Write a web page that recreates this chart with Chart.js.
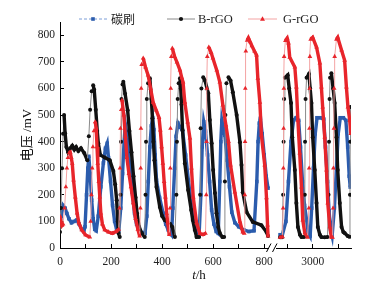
<!DOCTYPE html>
<html>
<head>
<meta charset="utf-8">
<script src="https://cdn.jsdelivr.net/npm/chart.js@4.4.1/dist/chart.umd.min.js"></script>
<style>
  html, body { margin: 0; padding: 0; background: #fff; }
  #wrap { width: 373px; height: 288px; }
</style>
</head>
<body>
<div id="wrap"><canvas id="chart"></canvas></div>
<script>
// 碳刷 (carbon brush) - time in h, voltage in mV
const brushT = [
  0, 5, 12, 20, 27, 35, 45, 55, 65, 75, 85, 93,
  98, 104, 109, 113, 118, 124, 130, 136, 142,
  150, 160, 170, 178, 185, 190, 198, 206, 214, 222, 230,
  238, 245, 251, 256, 262, 268, 275, 283, 292, 300, 310, 322, 333,
  340, 346, 352, 358, 363, 368, 373, 378, 390, 404, 414, 424, 437,
  442, 449, 455, 462, 470, 480, 492, 503, 515, 525, 535, 545,
  552, 557, 563, 570, 578, 586, 594, 603, 612, 620,
  626, 630, 634, 640, 646, 655, 664, 673, 685, 700, 720, 740, 760,
  771, 776, 781, 785, 792, 800, 808, 815,
  840,
  2872, 2880, 2895, 2905, 2915, 2925, 2935, 2945, 2952, 2960, 2968, 2976, 2982, 2990,
  2996, 3003, 3010, 3017, 3030, 3043, 3050, 3058, 3064, 3070, 3076,
  3085, 3093, 3100, 3108, 3120, 3130, 3137, 3143, 3147
];
const brushV = [
  90, 120, 160, 150, 130, 110, 95, 100, 105, 90, 70, 62,
  80, 200, 300, 345, 280, 180, 110, 70, 65,
  120, 230, 320, 375, 394, 340, 250, 160, 100, 68, 60,
  150, 280, 400, 465, 430, 360, 300, 210, 130, 90, 65, 58, 55,
  120, 250, 380, 460, 490, 445, 350, 255, 190, 131, 90, 68, 50,
  150, 300, 420, 470, 455, 443, 350, 255, 160, 100, 62, 52,
  200, 380, 475, 440, 350, 250, 143, 90, 62, 55,
  250, 400, 480, 450, 424, 330, 230, 135, 95, 80, 68, 62, 65,
  250, 400, 470, 488, 430, 350, 270, 225,
  null,
  50, 45, 100, 250, 400, 480, 490, 480, 380, 250, 160, 105, 60, 45,
  150, 300, 430, 490, 490, 485, 380, 250, 140, 70, 45,
  150, 300, 430, 490, 490, 480, 380, 270, 229
];

// B-rGO
const brgoT = [
  0, 4, 8, 12, 16, 20, 25, 32, 40, 48, 56, 63, 72, 82, 95, 107,
  113, 118, 124, 130, 134, 140, 146, 150, 158, 175, 195, 209, 216, 222, 226, 229, 234,
  237, 239, 241, 245, 248, 255, 265, 272, 280, 288, 296, 302, 310, 320, 332,
  335, 337, 340, 345, 352, 358, 362, 366, 370, 378, 391, 400, 410, 420, 432, 440, 450,
  456, 458, 461, 465, 470, 473, 476, 480, 489, 502, 514, 520, 528, 535,
  545, 549, 551, 554, 561, 568, 581, 587, 594, 600, 607, 613, 620, 626, 636,
  643, 646, 648, 652, 660, 668, 677, 692, 705, 711, 716, 731, 755, 789, 809, 815,
  840,
  2872, 2880, 2884, 2886, 2888, 2891, 2902, 2908, 2915, 2920, 2930, 2936, 2942, 2950, 2956, 2966,
  2969, 2970, 2972, 2976, 2985, 2990, 2995, 3000, 3008, 3015, 3020, 3028, 3034, 3047, 3058,
  3062, 3064, 3066, 3068, 3073, 3080, 3086, 3093, 3098, 3106, 3113, 3120, 3125, 3137, 3144,
  3146, 3147, 3148
];
const brgoV = [
  60, 150, 300, 430, 500, 432, 380, 360, 375, 385, 370, 380, 365, 375, 357, 330,
  420, 520, 590, 612, 595, 520, 440, 394, 350, 340, 330, 290, 240, 180, 100, 56, 41,
  200, 400, 560, 615, 625, 580, 518, 440, 360, 270, 190, 130, 80, 56, 41,
  200, 400, 560, 620, 638, 560, 488, 400, 330, 229, 154, 120, 105, 100, 90, 79, 41,
  200, 400, 560, 620, 638, 600, 540, 443, 318, 218, 143, 105, 68, 41,
  41, 200, 450, 600, 642, 630, 582, 481, 394, 293, 207, 131, 79, 56, 41,
  41, 250, 500, 620, 642, 630, 586, 500, 398, 312, 210, 135, 98, 86, 60, 45,
  null,
  40, 40, 200, 400, 560, 640, 650, 600, 545, 417, 293, 169, 79, 50, 41, 41,
  200, 400, 560, 640, 654, 600, 545, 417, 293, 169, 79, 50, 41, 40, 41,
  200, 400, 560, 640, 657, 600, 545, 417, 293, 169, 79, 60, 56, 45, 42,
  200, 400, 530
];

// G-rGO
const grgoT = [
  0, 4, 8, 12, 18, 23, 27, 31, 36, 40, 44, 48, 53, 60, 67, 74, 85, 100, 117,
  120, 123, 126, 129, 133, 138, 142, 145, 148, 152, 156, 160, 166, 175, 190, 205, 220, 230,
  233, 235, 237, 240, 243, 250, 256, 262, 270, 278, 287, 296, 305, 312,
  315, 316, 317, 318, 320, 326, 335, 345, 355, 365, 377, 388, 393, 398, 403, 408, 413, 418, 422, 428,
  431, 432, 433, 434, 436, 440, 449, 458, 470, 477, 482, 489, 500, 509, 515, 522, 535, 548, 560, 570,
  573, 574, 575, 577, 583, 592, 599, 614, 626, 638, 650, 660, 668, 685, 705, 716, 722,
  724, 725, 726, 728, 733, 738, 745, 752, 762, 770, 775, 783, 789, 802, 809, 813, 815,
  840,
  2872, 2882, 2884, 2885, 2886, 2887, 2888, 2893, 2900, 2905, 2910, 2930, 2936, 2942, 2949, 2956, 2961, 2969, 2980,
  2985, 2986, 2987, 2988, 2989, 2992, 3000, 3015, 3028, 3034, 3039, 3047, 3054, 3059, 3067, 3073, 3078,
  3080, 3081, 3083, 3084, 3086, 3093, 3098, 3113, 3125, 3132, 3138, 3145, 3149
];
const grgoV = [
  120, 100, 85, 90, 150, 230, 300, 340, 358, 360, 340, 318, 255, 191, 131, 94, 68, 49, 41,
  100, 200, 300, 380, 440, 474, 450, 380, 318, 250, 191, 131, 90, 68, 60, 55, 62, 70,
  150, 300, 450, 520, 556, 500, 420, 340, 280, 230, 170, 110, 70, 45,
  150, 300, 450, 600, 690, 714, 680, 650, 600, 548, 518, 490, 443, 380, 318, 250, 191, 130, 94, 50,
  150, 300, 450, 600, 720, 751, 720, 699, 669, 640, 624, 548, 473, 413, 300, 191, 94, 55, 50, 55,
  200, 400, 600, 720, 755, 735, 714, 669, 624, 537, 462, 400, 312, 210, 98, 60, 55,
  200, 400, 600, 740, 781, 790, 775, 760, 740, 725, 638, 548, 424, 312, 188, 86, 45,
  null,
  40, 42, 150, 300, 450, 600, 720, 780, 789, 770, 717, 680, 605, 480, 357, 229, 105, 56, 40,
  150, 300, 450, 600, 720, 785, 792, 755, 695, 605, 530, 417, 293, 169, 79, 41, 40,
  150, 300, 450, 600, 720, 785, 792, 744, 706, 605, 530, 480, 430
];

const xTicks = [0, 100, 200, 300, 400, 500, 600, 700, 800, 2900, 3000, 3100];
const xLabels = [0, 200, 400, 600, 800, 3000];
const yLabelStep = 100;

// broken x axis: 0..830 then jump to 2840..3150
const BREAK_AT = 830, BREAK_SHIFT = 2010, SPAN = 1140;
class BrokenScale extends Chart.LinearScale {
  getPixelForValue(v) {
    if (v === null || v === undefined) return NaN;
    const u = v > BREAK_AT ? v - BREAK_SHIFT : v;
    return this.getPixelForDecimal(u / SPAN);
  }
  getValueForPixel(p) {
    const u = this.getDecimalForPixel(p) * SPAN;
    return u > BREAK_AT ? u + BREAK_SHIFT : u;
  }
}
BrokenScale.id = 'broken';
BrokenScale.defaults = Chart.LinearScale.defaults;
Chart.register(BrokenScale);

const BLUE = '#2b5cad', BLUE_L = '#7d9ed8';
const BLACK = '#111111', BLACK_L = '#8a8a8a';
const RED = '#e8252b', RED_L = '#f4a3a3';

const zip = (t, v) => t.map((x, i) => ({x: x, y: v[i]}));
const steepRise = c => c.p0.y - c.p1.y > 2 * Math.abs(c.p1.x - c.p0.x);
const seg = (light, solid, thin) => ({
  borderColor: c => (thin && steepRise(c)) ? light : solid,
  borderWidth: c => (thin && steepRise(c)) ? 1 : 3.4
});

const serif = "'Liberation Serif', 'Times New Roman', serif";
const cjk = "'Liberation Serif', 'Noto Sans CJK SC', serif";

const legendItems = [
  {text: '碳刷', color: BLUE, line: BLUE_L, dash: [3, 2], shape: 'rect', x0: 79, x1: 107, tx: 111, font: "12px 'Noto Sans CJK SC'"},
  {text: 'B-rGO', color: BLACK, line: BLACK_L, dash: [], shape: 'circle', x0: 167, x1: 195, tx: 198, font: '12.5px ' + serif},
  {text: 'G-rGO', color: RED, line: RED_L, dash: [], shape: 'triangle', x0: 248, x1: 277, tx: 283, font: '12.5px ' + serif}
];

function marker(ctx, shape, x, y) {
  ctx.beginPath();
  if (shape === 'rect') ctx.rect(x - 1.8, y - 1.8, 3.6, 3.6);
  else if (shape === 'circle') ctx.arc(x, y, 2.1, 0, Math.PI * 2);
  else { ctx.moveTo(x, y - 2.7); ctx.lineTo(x + 2.5, y + 1.7); ctx.lineTo(x - 2.5, y + 1.7); ctx.closePath(); }
  ctx.fill();
}

const decorations = {
  id: 'decorations',
  afterDraw(chart) {
    const ctx = chart.ctx;
    const area = chart.chartArea;
    ctx.save();
    // legend row
    const ly = 19;
    legendItems.forEach(it => {
      ctx.strokeStyle = it.line;
      ctx.lineWidth = 1;
      ctx.setLineDash(it.dash);
      ctx.beginPath();
      ctx.moveTo(it.x0, ly); ctx.lineTo(it.x1, ly);
      ctx.stroke();
      ctx.setLineDash([]);
      ctx.fillStyle = it.color;
      marker(ctx, it.shape, (it.x0 + it.x1) / 2, ly);
      ctx.fillStyle = '#222';
      ctx.font = it.font;
      ctx.textBaseline = 'middle';
      ctx.textAlign = 'left';
      ctx.fillText(it.text, it.tx, ly + 0.5);
    });
    // axis break marks
    const by = area.bottom;
    ctx.fillStyle = '#fff';
    ctx.fillRect(269, by - 2, 7, 4);
    ctx.strokeStyle = '#000';
    ctx.lineWidth = 1;
    ctx.beginPath();
    ctx.moveTo(266.5, by + 4); ctx.lineTo(271, by - 4.5);
    ctx.moveTo(272.5, by + 4); ctx.lineTo(277, by - 4.5);
    ctx.stroke();
    // x title: t/h with italic t
    ctx.fillStyle = '#111';
    ctx.textBaseline = 'middle';
    ctx.textAlign = 'left';
    ctx.font = 'italic 13px ' + serif;
    const w1 = ctx.measureText('t').width;
    ctx.font = '13px ' + serif;
    const w2 = ctx.measureText('/h').width;
    const sx = 199 - (w1 + w2) / 2;
    ctx.font = 'italic 13px ' + serif;
    ctx.fillText('t', sx, 276);
    ctx.font = '13px ' + serif;
    ctx.fillText('/h', sx + w1, 276);
    ctx.restore();
  }
};

new Chart(document.getElementById('chart'), {
  type: 'line',
  data: {
    datasets: [
      {
        label: '碳刷', data: zip(brushT, brushV), order: 2,
        borderColor: BLUE, borderWidth: 3.4, segment: seg(BLUE_L, BLUE, false),
        pointStyle: 'rect', pointRadius: 2.5, pointBackgroundColor: BLUE, pointBorderWidth: 0
      },
      {
        label: 'B-rGO', data: zip(brgoT, brgoV), order: 1,
        borderColor: BLACK, borderWidth: 3.4, segment: seg(BLACK_L, BLACK, true),
        pointStyle: 'circle', pointRadius: 2.0, pointBackgroundColor: BLACK, pointBorderWidth: 0
      },
      {
        label: 'G-rGO', data: zip(grgoT, grgoV), order: 0,
        borderColor: RED, borderWidth: 3.4, segment: seg(RED_L, RED, true),
        pointStyle: 'triangle', pointRadius: 2.7, pointBackgroundColor: RED, pointBorderWidth: 0
      }
    ]
  },
  options: {
    animation: false,
    responsive: true,
    maintainAspectRatio: false,
    devicePixelRatio: 1,
    spanGaps: false,
    layout: {padding: {left: 0, right: 22, top: 22, bottom: 0}},
    plugins: {legend: {display: false}, tooltip: {enabled: false}},
    scales: {
      x: {
        type: 'broken',
        min: 0, max: 3150,
        afterBuildTicks: s => { s.ticks = xTicks.map(v => ({value: v})); },
        afterFit: s => { s.height = 40; },
        ticks: {
          autoSkip: false, maxRotation: 0, padding: 11, color: '#222',
          font: {family: serif, size: 11.5},
          callback: v => xLabels.includes(v) ? String(v) : ''
        },
        grid: {drawOnChartArea: false, drawTicks: true, tickLength: -4, color: '#000'},
        border: {display: true, color: '#000', width: 1}
      },
      y: {
        min: 0, max: 850,
        afterFit: s => { s.width = 60; },
        ticks: {
          stepSize: 50, padding: 9, color: '#222',
          font: {family: serif, size: 11.5},
          callback: v => v % yLabelStep === 0 ? String(v) : ''
        },
        grid: {drawOnChartArea: false, drawTicks: true, tickLength: -4, color: '#000'},
        border: {display: true, color: '#000', width: 1},
        title: {display: true, text: '电压 /mV', color: '#111', font: {family: cjk, size: 13}, padding: {top: 20, bottom: 0}}
      }
    }
  },
  plugins: [decorations]
});
</script>
</body>
</html>
